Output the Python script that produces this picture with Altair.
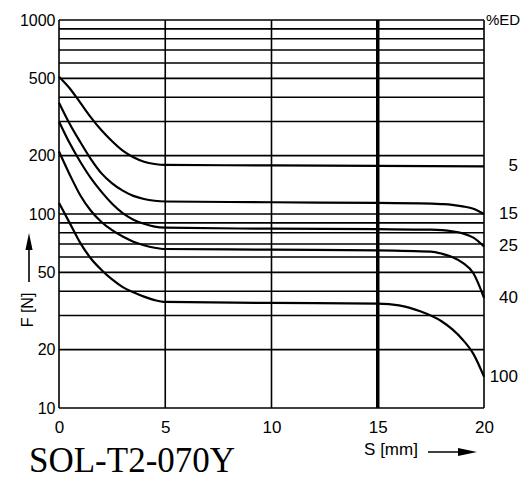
import altair as alt
import pandas as pd

# ---- data ----
ed_labels = ["5", "15", "25", "40", "100"]

s_5 = [0, 0.5, 1.0, 1.5, 2.0, 2.5, 3.0, 3.5, 4.0, 4.5, 5.0, 10, 15, 20]
f_5 = [510, 445, 375, 315, 270, 237, 212, 196, 186, 181, 179, 178, 177, 176]

s_15 = [0, 0.5, 1.0, 1.5, 2.0, 2.5, 3.0, 3.5, 4.0, 4.5, 5.0, 10, 15, 17, 18, 18.5, 19, 19.5, 20]
f_15 = [375, 292, 235, 192, 162, 144, 132, 124, 119.5, 117, 116, 115, 114, 113.5, 112.5, 111.5, 109.5, 106.5, 100]

s_25 = [0, 0.5, 1.0, 1.5, 2.0, 2.5, 3.0, 3.5, 4.0, 4.5, 5.0, 10, 15, 17.5, 18.5, 19, 19.5, 20]
f_25 = [300, 232, 186, 153, 130, 113, 101, 93.5, 89, 86, 85, 84, 83.5, 83, 81.5, 79.5, 75.5, 68]

s_40 = [0, 0.5, 1.0, 1.5, 2.0, 2.5, 3.0, 3.5, 4.0, 4.5, 5.0, 10, 15, 17.5, 18, 18.5, 19, 19.5, 20]
f_40 = [210, 160, 125, 104, 91, 82.5, 76.5, 72, 69, 67, 66, 65.5, 65, 64, 62.5, 60, 56, 49.5, 37]

s_100 = [0, 0.5, 1.0, 1.5, 2.0, 2.5, 3.0, 3.5, 4.0, 4.5, 5.0, 10, 15, 16, 17, 18, 18.5, 19, 19.5, 20]
f_100 = [114, 90, 71, 59, 51.5, 46, 42, 39.5, 37.5, 36, 35.2, 34.8, 34.5, 33.8, 31.5, 28, 25.5, 22.5, 19, 14.5]

h_grid = [10, 20, 30, 40, 50, 60, 70, 80, 90, 100,
          200, 300, 400, 500, 600, 700, 800, 900, 1000]
v_grid_thin = [0, 5, 10, 20]
v_grid_thick = [15]
y_ticks = [10, 20, 50, 100, 200, 500, 1000]
x_ticks = [0, 5, 10, 15, 20]

texts = {"model": "SOL-T2-070Y", "xtitle": "S [mm]", "ytitle": "F [N]", "ed": "%ED"}

# ---- tables ----
series = [(ed_labels[0], s_5, f_5), (ed_labels[1], s_15, f_15), (ed_labels[2], s_25, f_25),
          (ed_labels[3], s_40, f_40), (ed_labels[4], s_100, f_100)]
rows = []
ends = []
for lab, ss, ff in series:
    for s, f in zip(ss, ff):
        rows.append({"ed": lab, "s": s, "f": f})
    ends.append({"ed": lab, "s": ss[-1], "f": ff[-1]})
curves = pd.DataFrame(rows)
ends_df = pd.DataFrame(ends)

W, H = 425, 388
FONT = "Liberation Sans"

xscale = alt.Scale(domain=[0, 20], nice=False, zero=False)
yscale = alt.Scale(type="log", domain=[10, 1000], nice=False)

hgrid = alt.Chart(pd.DataFrame({"v": h_grid})).mark_rule(color="black", strokeWidth=1.6).encode(
    y=alt.Y("v:Q", scale=yscale,
            axis=alt.Axis(values=y_ticks, format="d", title=None, ticks=False, domain=False,
                          grid=False, labelFontSize=16, labelFont=FONT, labelColor="black",
                          labelPadding=4, labelFlush=False, labelOverlap=False)),
    x=alt.value(0), x2=alt.value(W))

vthin = alt.Chart(pd.DataFrame({"s": v_grid_thin})).mark_rule(color="black", strokeWidth=1.6).encode(
    x=alt.X("s:Q", scale=xscale,
            axis=alt.Axis(values=x_ticks, format="d", title=None, ticks=False, domain=False,
                          grid=False, labelFontSize=17, labelFont=FONT, labelColor="black",
                          labelPadding=11, labelFlush=False, labelOverlap=False)),
    y=alt.value(0), y2=alt.value(H))

vthick = alt.Chart(pd.DataFrame({"s": v_grid_thick})).mark_rule(color="black", strokeWidth=3.5).encode(
    x=alt.X("s:Q", scale=xscale), y=alt.value(0), y2=alt.value(H))

lines = alt.Chart(curves).mark_line(color="black", strokeWidth=2.2, interpolate="monotone").encode(
    x=alt.X("s:Q", scale=xscale), y=alt.Y("f:Q", scale=yscale), detail="ed:N")

end_text = alt.Chart(ends_df).mark_text(align="right", baseline="middle", dx=34, fontSize=17,
                                        font=FONT, color="black").encode(
    x=alt.X("s:Q", scale=xscale), y=alt.Y("f:Q", scale=yscale), text="ed:N")

ed_text = alt.Chart(pd.DataFrame({"s": [20], "f": [1000], "t": [texts["ed"]]})).mark_text(
    align="left", baseline="middle", dx=2, fontSize=15, font=FONT, color="black").encode(
    x=alt.X("s:Q", scale=xscale), y=alt.Y("f:Q", scale=yscale), text="t:N")

lab_df = pd.DataFrame({"t": [texts["model"]]})
model_text = alt.Chart(lab_df).mark_text(align="left", baseline="alphabetic", fontSize=35,
                                         font="Liberation Serif", color="black").encode(
    x=alt.value(-30), y=alt.value(452), text="t:N")

xt_df = pd.DataFrame({"t": [texts["xtitle"]]})
x_title = alt.Chart(xt_df).mark_text(align="center", baseline="middle", fontSize=17,
                                     font=FONT, color="black").encode(
    x=alt.value(332), y=alt.value(430), text="t:N")
x_arrow = alt.Chart(xt_df).mark_rule(color="black", strokeWidth=1.6).encode(
    x=alt.value(369), x2=alt.value(402), y=alt.value(432))
x_head = alt.Chart(xt_df).mark_point(shape="M-1,-0.42L1,0L-1,0.42Z", filled=True, color="black",
                                     size=361, opacity=1).encode(
    x=alt.value(408.5), y=alt.value(432))

yt_df = pd.DataFrame({"t": [texts["ytitle"]]})
y_title = alt.Chart(yt_df).mark_text(align="center", baseline="middle", fontSize=16, angle=270,
                                     font=FONT, color="black").encode(
    x=alt.value(-31), y=alt.value(290), text="t:N")
y_arrow = alt.Chart(yt_df).mark_rule(color="black", strokeWidth=1.6).encode(
    x=alt.value(-30), y=alt.value(226), y2=alt.value(262))
y_head = alt.Chart(yt_df).mark_point(shape="M-0.42,1L0,-1L0.42,1Z", filled=True, color="black",
                                     size=289, opacity=1).encode(
    x=alt.value(-30), y=alt.value(221.5))

chart = alt.layer(hgrid, vthin, vthick, lines, end_text, ed_text, model_text,
                  x_title, x_arrow, x_head, y_title, y_arrow, y_head).properties(
    width=W, height=H,
    padding={"left": 51, "top": 12, "right": 36, "bottom": 79},
    autosize=alt.AutoSizeParams(type="none"),
    background="white",
).configure_view(stroke=None)

chart.save("out.html", embed_options={"renderer": "svg", "actions": False})
